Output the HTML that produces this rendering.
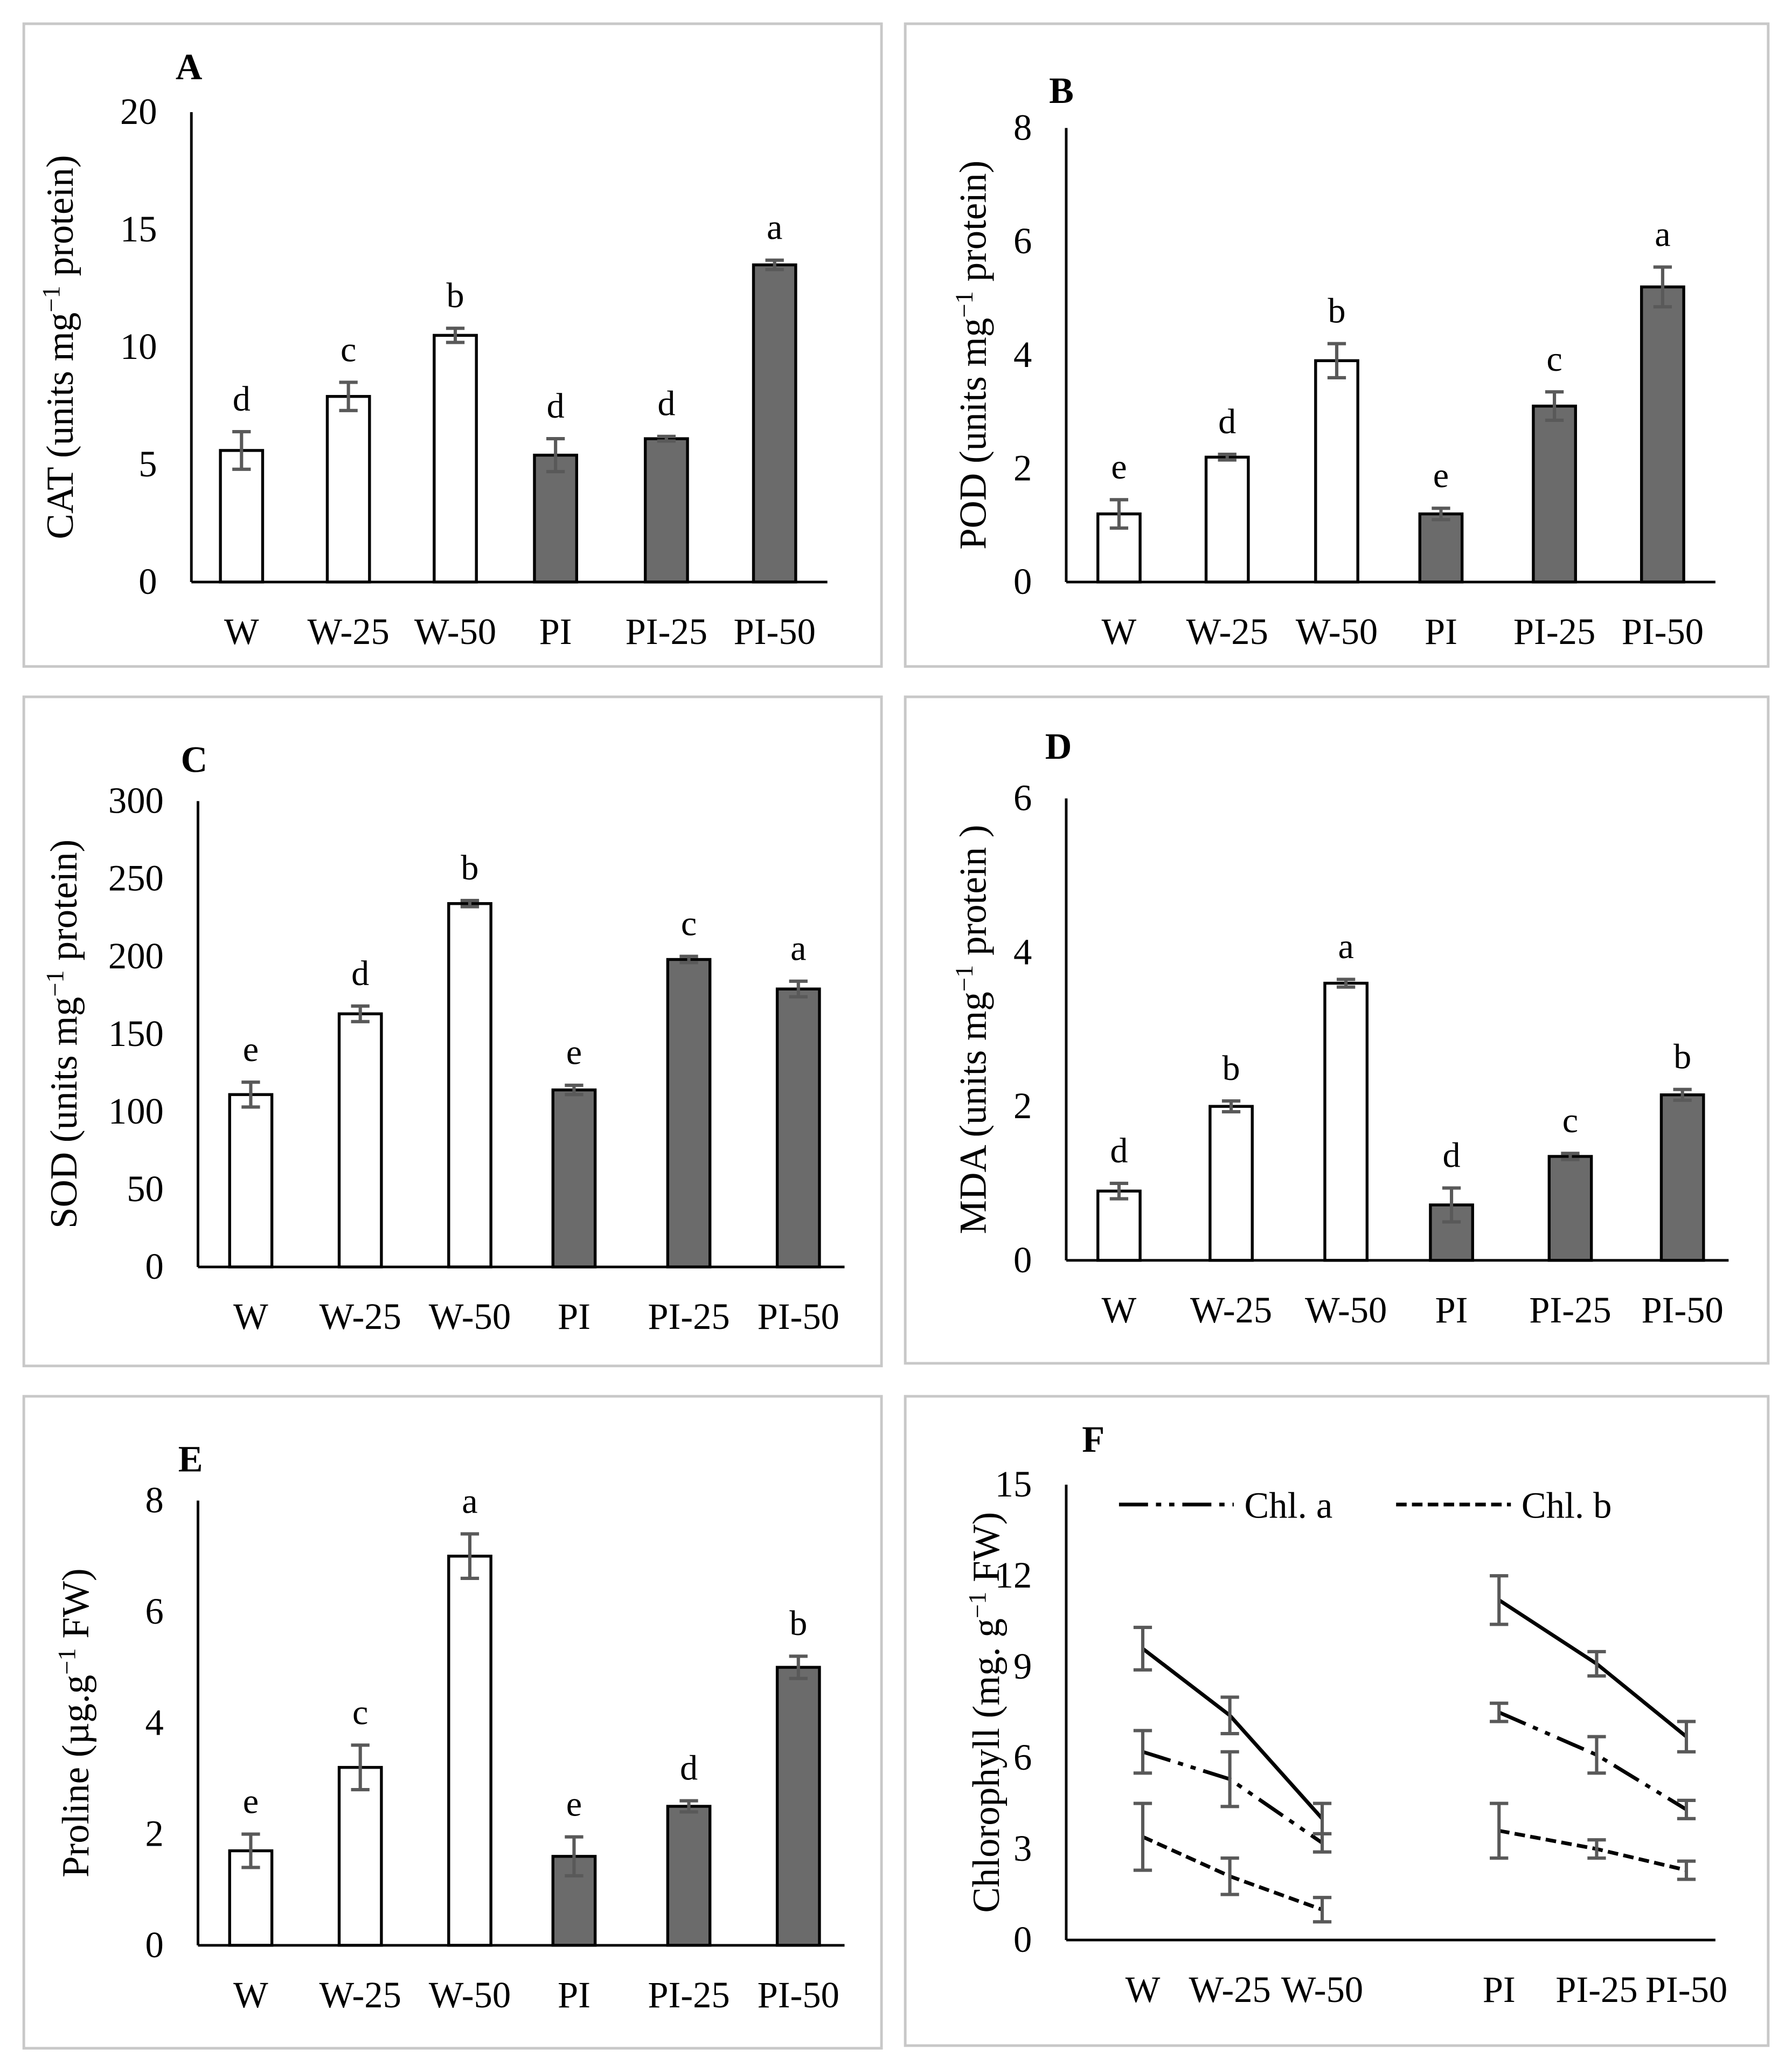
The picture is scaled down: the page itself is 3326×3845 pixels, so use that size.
<!DOCTYPE html>
<html><head><meta charset="utf-8">
<style>
html,body{margin:0;padding:0;background:#fff}
svg{display:block}
text{font-family:"Liberation Serif",serif;fill:#000}
</style></head>
<body>
<svg id="fig" width="3326" height="3845" viewBox="0 0 1358 1570" xmlns="http://www.w3.org/2000/svg"></svg>
<script>
// ---- data ----
const categories = ["W","W-25","W-50","PI","PI-25","PI-50"];
const catValues = [5.6,7.9,10.5,5.4,6.1,13.5];
const catErr = [0.8,0.6,0.3,0.7,0.1,0.2];
const catLetters = ["d","c","b","d","d","a"];
const catTicks = [0,5,10,15,20];
const podValues = [1.2,2.2,3.9,1.2,3.1,5.2];
const podErr = [0.25,0.05,0.3,0.1,0.25,0.35];
const podLetters = ["e","d","b","e","c","a"];
const podTicks = [0,2,4,6,8];
const sodValues = [111,163,234,114,198,179];
const sodErr = [8,5,2,3,2,5];
const sodLetters = ["e","d","b","e","c","a"];
const sodTicks = [0,50,100,150,200,250,300];
const mdaValues = [0.9,2.0,3.6,0.72,1.35,2.15];
const mdaErr = [0.1,0.07,0.05,0.22,0.04,0.07];
const mdaLetters = ["d","b","a","d","c","b"];
const mdaTicks = [0,2,4,6];
const proValues = [1.7,3.2,7.0,1.6,2.5,5.0];
const proErr = [0.3,0.4,0.4,0.35,0.1,0.2];
const proLetters = ["e","c","a","e","d","b"];
const proTicks = [0,2,4,6,8];
const chlTotal = [9.6,7.4,4.0,11.2,9.1,6.7];
const chlTotalErr = [0.7,0.6,0.5,0.8,0.4,0.5];
const chlA = [6.2,5.3,3.2,7.5,6.1,4.3];
const chlAErr = [0.7,0.9,0.3,0.3,0.6,0.3];
const chlB = [3.4,2.1,1.0,3.6,3.0,2.3];
const chlBErr = [1.1,0.6,0.4,0.9,0.3,0.3];
const chlTicks = [0,3,6,9,12,15];

const svg = document.getElementById('fig');
const NS = "http://www.w3.org/2000/svg";
function mk(tag, attrs, parent){
  const e = document.createElementNS(NS, tag);
  for (const k in attrs) e.setAttribute(k, attrs[k]);
  (parent||svg).appendChild(e);
  return e;
}
function txt(s, x, y, size, anchor, parent, name){
  const t = mk('text', {x:x, y:y, 'font-size':size, 'text-anchor':anchor||'middle'}, parent);
  t.textContent = s;
  
  
  return t;
}
function frame(x1,y1,x2,y2,name){
  const r = mk('rect',{x:x1,y:y1,width:x2-x1,height:y2-y1,fill:'none',stroke:'#c8c8c8','stroke-width':2});
  
  
}
function axes(g, ax, yTop, yBot, xEnd, ticks){
  const maxT = ticks[ticks.length-1];
  const ys = v => yBot - (v/maxT)*(yBot-yTop);
  const yl = mk('line',{x1:ax,y1:yTop,x2:ax,y2:yBot,stroke:'#000','stroke-width':2},g);
  
  
  const xl = mk('line',{x1:ax,y1:yBot,x2:xEnd,y2:yBot,stroke:'#000','stroke-width':2},g);
  
  
  ticks.forEach(t=>{ txt(String(t), ax-26, ys(t)+9, 28, 'end', g, 'y-tick-label'); });
  return ys;
}
function errbar(g, x, yv1, yv2, name){
  const c = '#595959';
  const e = mk('path',{d:`M${x},${yv1}V${yv2}M${x-7},${yv1}H${x+7}M${x-7},${yv2}H${x+7}`,stroke:c,'stroke-width':2.5,fill:'none'},g);
  
  
}
function barPanel(p){
  const g = mk('g',{});
  
  
  frame(p.box[0],p.box[1],p.box[2],p.box[3],'panel-border');
  const ys = axes(g, p.ax, p.yTop, p.yBot, p.xEnd, p.ticks);
  txt(p.letter, p.lx, p.ly, 28, 'start', g, 'panel-letter').setAttribute('font-weight','bold');
  const yt = txt('', 0, 0, 29, 'middle', g, 'y-axis-title');
  yt.setAttribute('transform', `translate(${p.ylx},${(p.yTop+p.yBot)/2}) rotate(-90)`);
  yt.innerHTML = p.ylab;
  categories.forEach((c,i)=>{
    const x = p.xs[i];
    const v = p.vals[i], e = p.errs[i];
    const y = ys(v);
    const b = mk('rect',{x:x-16,y:y,width:32,height:p.yBot-y,fill:i<3?'#fff':'#6b6b6b',stroke:'#000','stroke-width':2.2},g);
    
    
    errbar(g, x, ys(v+e), ys(v-e), 'error-bar');
    txt(p.letters[i], x, ys(v+e)-16, 27, 'middle', g, 'significance-letter');
    txt(c, x, p.yBot+47, 28, 'middle', g, 'x-tick-label');
  });
}
barPanel({name:'panel-a-cat',box:[18,18,668,505],ax:145,yTop:85,yBot:441,xEnd:627,ticks:catTicks,
  xs:[183,264,345,421,505,587],vals:catValues,errs:catErr,letters:catLetters,letter:'A',lx:133,ly:60,ylx:55,
  ylab:'CAT (units mg<tspan dy="-10" font-size="19">−1</tspan><tspan dy="10"> protein)</tspan>'});
barPanel({name:'panel-b-pod',box:[686,18,1340,505],ax:808,yTop:97,yBot:441,xEnd:1300,ticks:podTicks,
  xs:[848,930,1013,1092,1178,1260],vals:podValues,errs:podErr,letters:podLetters,letter:'B',lx:795,ly:78,ylx:747,
  ylab:'POD (units mg<tspan dy="-10" font-size="19">−1</tspan><tspan dy="10"> protein)</tspan>'});
barPanel({name:'panel-c-sod',box:[18,528,668,1035],ax:150,yTop:607,yBot:960,xEnd:640,ticks:sodTicks,
  xs:[190,273,356,435,522,605],vals:sodValues,errs:sodErr,letters:sodLetters,letter:'C',lx:137,ly:585,ylx:58,
  ylab:'SOD (units mg<tspan dy="-10" font-size="19">−1</tspan><tspan dy="10"> protein)</tspan>'});
barPanel({name:'panel-d-mda',box:[686,528,1340,1033],ax:808,yTop:605,yBot:955,xEnd:1310,ticks:mdaTicks,
  xs:[848,933,1020,1100,1190,1275],vals:mdaValues,errs:mdaErr,letters:mdaLetters,letter:'D',lx:792,ly:575,ylx:747,
  ylab:'MDA (units mg<tspan dy="-10" font-size="19">−1</tspan><tspan dy="10"> protein )</tspan>'});
barPanel({name:'panel-e-proline',box:[18,1058,668,1552],ax:150,yTop:1137,yBot:1474,xEnd:640,ticks:proTicks,
  xs:[190,273,356,435,522,605],vals:proValues,errs:proErr,letters:proLetters,letter:'E',lx:135,ly:1115,ylx:67,
  ylab:'Proline (µg.g<tspan dy="-10" font-size="19">−1</tspan><tspan dy="10"> FW)</tspan>'});

// Panel F
(function(){
  const g = mk('g',{});
  
  
  frame(686,1058,1340,1550,'panel-border');
  const yTop=1125, yBot=1470, ax=808;
  const ys = axes(g, ax, yTop, yBot, 1300, chlTicks);
  txt('F', 820, 1100, 28, 'start', g, 'panel-letter').setAttribute('font-weight','bold');
  const yt = txt('', 0, 0, 29, 'middle', g, 'y-axis-title');
  yt.setAttribute('transform', `translate(757,${(yTop+yBot)/2}) rotate(-90)`);
  yt.innerHTML = 'Chlorophyll (mg. g<tspan dy="-10" font-size="19">−1</tspan><tspan dy="10"> FW)</tspan>';
  const xs = [866,932,1002,1136,1210,1278];
  categories.forEach((c,i)=> txt(c, xs[i], yBot+47, 28, 'middle', g, 'x-tick-label'));
  const series = [
    {v:chlTotal,e:chlTotalErr,dash:'',name:'line-total-chlorophyll'},
    {v:chlA,e:chlAErr,dash:'22,6,4,6,4,6',name:'line-chl-a'},
    {v:chlB,e:chlBErr,dash:'8,4',name:'line-chl-b'}];
  series.forEach(s=>{
    [[0,1,2],[3,4,5]].forEach(grp=>{
      const d = grp.map((i,k)=>(k?'L':'M')+xs[i]+','+ys(s.v[i])).join('');
      const l = mk('path',{d:d,fill:'none',stroke:'#000','stroke-width':2.8,'stroke-dasharray':s.dash},g);
      
      
    });
    s.v.forEach((v,i)=>errbar(g, xs[i], ys(v+s.e[i]), ys(v-s.e[i]), 'error-bar'));
  });
  const l1 = mk('line',{x1:848,y1:1140,x2:935,y2:1140,stroke:'#000','stroke-width':2.8,'stroke-dasharray':'22,6,4,6,4,6'},g);
  
  
  txt('Chl. a', 943, 1150, 28, 'start', g, 'legend-label-chl-a');
  const l2 = mk('line',{x1:1058,y1:1140,x2:1145,y2:1140,stroke:'#000','stroke-width':2.8,'stroke-dasharray':'8,4'},g);
  
  
  txt('Chl. b', 1153, 1150, 28, 'start', g, 'legend-label-chl-b');
})();
</script>
</body></html>
